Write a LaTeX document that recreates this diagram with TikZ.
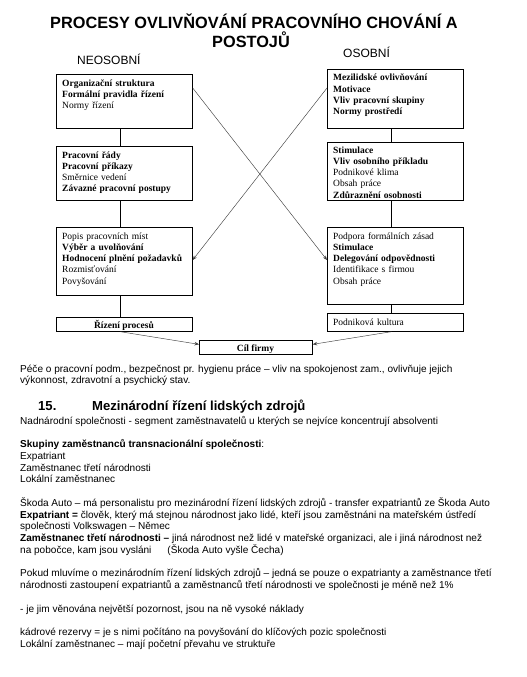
\documentclass[tikz,border=0pt]{standalone}
\usepackage{fontspec}
\setmainfont{Liberation Serif}
\setsansfont{Liberation Sans}
\usetikzlibrary{arrows.meta}
\begin{document}
\begin{tikzpicture}[x=1pt,y=-1pt,
  box/.style={draw,line width=0.7pt,anchor=north west,inner sep=0pt},
  btxt/.style={anchor=base west,inner sep=0pt,align=left,text width=134pt,font=\fontsize{9.5}{11.3}\selectfont},
  ctxt/.style={anchor=base,inner sep=0pt,font=\fontsize{9.5}{11.3}\selectfont},
  body/.style={anchor=base west,inner sep=0pt,font=\sffamily\fontsize{10.05}{11.75}\selectfont},
  head/.style={anchor=base west,inner sep=0pt,font=\sffamily\bfseries\fontsize{13.1}{15}\selectfont},
  ttl/.style={anchor=base,inner sep=0pt,font=\sffamily\bfseries\fontsize{16.3}{18}\selectfont},
  side/.style={anchor=base west,inner sep=0pt,font=\sffamily\fontsize{12}{14}\selectfont},
  link/.style={line width=0.6pt},
  cross/.style={line width=0.45pt,draw=black!75},
  tip/.style={-{Stealth[length=4.5pt,width=3.5pt]}}]
\path[use as bounding box] (0,0) rectangle (527,677);
% title
\node[ttl] (title1) at (254,29) {PROCESY OVLIVŇOVÁNÍ PRACOVNÍHO CHOVÁNÍ A};
\node[ttl] (title2) at (251,48) {POSTOJŮ};
\node[side] (neos) at (77,64.5) {NEOSOBNÍ};
\node[side] (osob) at (343,57) {OSOBNÍ};
% left boxes
\node[box,minimum width=136pt,minimum height=54pt] (L1) at (56,74) {};
\node[box,minimum width=136pt,minimum height=54pt] (L2) at (56,146) {};
\node[box,minimum width=136pt,minimum height=68pt] (L3) at (56,227) {};
\node[box,minimum width=136pt,minimum height=14pt] (L4) at (56,317) {};
\node[box,minimum width=113pt,minimum height=14pt] (C) at (199,340) {};
% right boxes
\node[box,minimum width=136pt,minimum height=59pt] (R1) at (327,69) {};
\node[box,minimum width=136pt,minimum height=58pt] (R2) at (327,142) {};
\node[box,minimum width=136pt,minimum height=77pt] (R3) at (327,227) {};
\node[box,minimum width=136pt,minimum height=18pt] (R4) at (327,313) {};
% box texts
\node[btxt] (L1t) at (62,86) {\textbf{Organizační struktura}\\\textbf{Formální pravidla řízení}\\Normy řízení};
\node[btxt] (L2t) at (62,158) {\textbf{Pracovní řády}\\\textbf{Pracovní příkazy}\\Směrnice vedení\\\textbf{Závazné pracovní postupy}};
\node[btxt] (L3t) at (62,239) {Popis pracovních míst\\\textbf{Výběr a uvolňování}\\\textbf{Hodnocení plnění požadavků}\\Rozmisťování\\Povyšování};
\node[ctxt] (L4t) at (124,328) {\textbf{Řízení procesů}};
\node[ctxt] (Ct) at (255.5,351) {\textbf{Cíl firmy}};
\node[btxt] (R1t) at (333,81) {\textbf{Mezilidské ovlivňování}\\\textbf{Motivace}\\\textbf{Vliv pracovní skupiny}\\\textbf{Normy prostředí}};
\node[btxt] (R2t) at (333,153) {\textbf{Stimulace}\\\textbf{Vliv osobního příkladu}\\Podnikové klima\\Obsah práce\\\textbf{Zdůraznění osobnosti}};
\node[btxt] (R3t) at (333,239) {Podpora formálních zásad\\\textbf{Stimulace}\\\textbf{Delegování odpovědnosti}\\Identifikace s firmou\\Obsah práce};
\node[btxt] (R4t) at (333,325) {Podniková kultura};
% vertical links
\draw[link] ([xshift=-4pt]L1.south) -- ([xshift=-4pt]L2.north);
\draw[link] ([xshift=-4pt]L2.south) -- ([xshift=-4pt]L3.north);
\draw[link] ([xshift=-4pt]L3.south) -- ([xshift=-4pt]L4.north);
\draw[link] ([xshift=-4pt]R1.south) -- ([xshift=-4pt]R2.north);
\draw[link] ([xshift=-4pt]R2.south) -- ([xshift=-4pt]R3.north);
\draw[link] ([xshift=-4pt]R3.south) -- ([xshift=-4pt]R4.north);
% crossing arrows
\draw[cross,tip] ([yshift=-14pt]L1.north east) -- ([yshift=-33pt]R3.north west);
\draw[cross,tip] ([yshift=-19pt]R1.north west) -- ([yshift=-33pt]L3.north east);
% to goal
\draw[cross,tip] ([xshift=-4pt]L4.south) -- ([yshift=3pt]C.west);
\draw[cross,tip] ([xshift=-4pt]R4.south) -- ([yshift=3pt]C.east);
% body text
\node[body] (b1) at (20,372) {Péče o pracovní podm., bezpečnost pr. hygienu práce – vliv na spokojenost zam., ovlivňuje jejich};
\node[body] (b2) at (20,383.75) {výkonnost, zdravotní a psychický stav.};
\node[head] (h1) at (38,410) {15.};
\node[head] (h2) at (92,410) {Mezinárodní řízení lidských zdrojů};
\node[body] (b3) at (20,424) {Nadnárodní společnosti - segment zaměstnavatelů u kterých se nejvíce koncentrují absolventi};
\node[body] (b4) at (20,447.5) {\textbf{Skupiny zaměstnanců transnacionální společnosti}:};
\node[body] (b5) at (20,459.25) {Expatriant};
\node[body] (b6) at (20,471) {Zaměstnanec třetí národnosti};
\node[body] (b7) at (20,482.75) {Lokální zaměstnanec};
\node[body] (b8) at (20,506.25) {Škoda Auto – má personalistu pro mezinárodní řízení lidských zdrojů - transfer expatriantů ze Škoda Auto};
\node[body] (b9) at (20,518) {\textbf{Expatriant =} člověk, který má stejnou národnost jako lidé, kteří jsou zaměstnáni na mateřském ústředí};
\node[body] (b10) at (20,529.75) {společnosti Volkswagen – Němec};
\node[body] (b11) at (20,541.5) {\textbf{Zaměstnanec třetí národnosti –} jiná národnost než lidé v mateřské organizaci, ale i jiná národnost než};
\node[body] (b12) at (20,553.25) {na pobočce, kam jsou vysláni\hspace{16pt}(Škoda Auto vyšle Čecha)};
\node[body] (b13) at (20,576.75) {Pokud mluvíme o mezinárodním řízení lidských zdrojů – jedná se pouze o expatrianty a zaměstnance třetí};
\node[body] (b14) at (20,588.5) {národnosti zastoupení expatriantů a zaměstnanců třetí národnosti ve společnosti je méně než 1\%};
\node[body] (b15) at (20,612) {- je jim věnována největší pozornost, jsou na ně vysoké náklady};
\node[body] (b16) at (20,635.5) {kádrové rezervy = je s nimi počítáno na povyšování do klíčových pozic společnosti};
\node[body] (b17) at (20,647.25) {Lokální zaměstnanec – mají početní převahu ve struktuře};
\end{tikzpicture}
\end{document}
